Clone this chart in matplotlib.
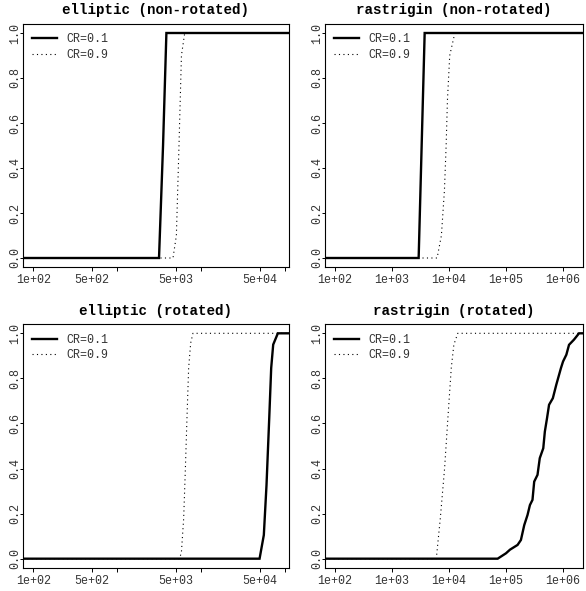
import matplotlib
matplotlib.use("Agg")
import matplotlib.pyplot as plt

plt.rcParams['font.family'] = ['Liberation Mono', 'DejaVu Sans Mono']

# ECDF points: sorted evaluations vs. cumulative fraction
ell_nr_cr01_x = [3160, 3530, 3870]
ell_nr_cr01_p = [0.0, 0.5, 1.0]
ell_nr_cr09_x = [4640, 5090, 5470, 5850, 6400]
ell_nr_cr09_p = [0.0, 0.1, 0.5, 0.9, 1.0]

ras_nr_cr01_x = [2965, 3780]
ras_nr_cr01_p = [0.0, 1.0]
ras_nr_cr09_x = [6250, 7430, 8400, 9000, 9480, 10400, 12800]
ras_nr_cr09_p = [0.0, 0.1, 0.3, 0.5, 0.7, 0.9, 1.0]

ell_r_cr01_x = [50000, 56200, 60500, 65200, 68800, 72700, 82600]
ell_r_cr01_p = [0.0, 0.105, 0.327, 0.624, 0.846, 0.95, 1.0]
ell_r_cr09_x = [5570, 5850, 6220, 6520, 6810, 7130, 7540, 8030]
ell_r_cr09_p = [0.0, 0.03, 0.179, 0.401, 0.624, 0.846, 0.957, 1.0]

ras_r_cr01_x = [72100, 101000, 118600, 161000, 184500, 211000, 241000, 265500,
                294400, 315500, 360600, 395000, 455000, 485000, 530000, 575000,
                670000, 770000, 930000, 1011600, 1156000, 1288000, 1574000, 1928000]
ras_r_cr01_p = [0.0, 0.024, 0.04, 0.061, 0.083, 0.149, 0.194, 0.238,
                0.261, 0.342, 0.372, 0.446, 0.49, 0.564, 0.624, 0.683,
                0.712, 0.772, 0.846, 0.875, 0.905, 0.949, 0.972, 1.0]
ras_r_cr09_x = [6050, 7110, 8450, 9660, 11070, 12300, 14400]
ras_r_cr09_p = [0.0, 0.179, 0.40, 0.624, 0.846, 0.95, 1.0]

titles = ["elliptic (non-rotated)", "rastrigin (non-rotated)",
          "elliptic (rotated)", "rastrigin (rotated)"]
left_ticks = [1e2, 5e2, 1e3, 5e3, 1e4, 5e4, 1e5]
left_labels = ["1e+02", "5e+02", "", "5e+03", "", "5e+04", ""]
right_ticks = [1e2, 1e3, 1e4, 1e5, 1e6]
right_labels = ["1e+02", "1e+03", "1e+04", "1e+05", "1e+06"]
y_ticks = [0.0, 0.2, 0.4, 0.6, 0.8, 1.0]
y_labels = ["0.0", "0.2", "0.4", "0.6", "0.8", "1.0"]

W, H = 586, 591
fig = plt.figure(figsize=(W / 100, H / 100), dpi=100)


def box(l, t, r, b):
    return [l / W, 1 - b / H, (r - l) / W, (b - t) / H]


panels = [
    (box(22.7, 24, 288.5, 267), (10**1.874, 10**5.044), left_ticks, left_labels,
     (ell_nr_cr01_x, ell_nr_cr01_p), (ell_nr_cr09_x, ell_nr_cr09_p)),
    (box(324.7, 24, 583, 267), (10**1.824, 10**6.355), right_ticks, right_labels,
     (ras_nr_cr01_x, ras_nr_cr01_p), (ras_nr_cr09_x, ras_nr_cr09_p)),
    (box(22.7, 324.3, 288.5, 567.7), (10**1.874, 10**5.044), left_ticks, left_labels,
     (ell_r_cr01_x, ell_r_cr01_p), (ell_r_cr09_x, ell_r_cr09_p)),
    (box(324.7, 324.3, 583, 567.7), (10**1.824, 10**6.355), right_ticks, right_labels,
     (ras_r_cr01_x, ras_r_cr01_p), (ras_r_cr09_x, ras_r_cr09_p)),
]

for title, (rect, xlim, xt, xl, s01, s09) in zip(titles, panels):
    ax = fig.add_axes(rect)
    ax.set_xscale('log')
    lo, hi = xlim
    # ECDF extended flat to both ends of the axis
    l9, = ax.plot([lo] + s09[0] + [hi], [0.0] + s09[1] + [1.0], color='black',
                  lw=0.8, linestyle=(0, (1, 3)))
    l1, = ax.plot([lo] + s01[0] + [hi], [0.0] + s01[1] + [1.0], color='black',
                  lw=1.7, solid_joinstyle='miter')
    ax.set_xlim(lo, hi)
    ax.set_ylim(-0.04, 1.04)
    ax.set_xticks(xt)
    ax.set_xticklabels(xl)
    ax.xaxis.set_minor_locator(matplotlib.ticker.NullLocator())
    ax.set_yticks(y_ticks)
    ax.set_yticklabels(y_labels, rotation=90, va='center')
    ax.tick_params(direction='out', length=3, width=0.7, labelsize=8.4,
                   colors='black', labelcolor='#333333')
    ax.tick_params(axis='x', pad=2)
    ax.tick_params(axis='y', length=2.5, pad=-1.5)
    for sp in ax.spines.values():
        sp.set_linewidth(0.8)
    ax.set_title(title, fontsize=10.2, fontweight='bold', pad=7)
    ax.legend([l1, l9], ["CR=0.1", "CR=0.9"], loc='upper left', frameon=False,
              fontsize=8.4, handlelength=2.1, handletextpad=0.85,
              labelspacing=0.3, borderaxespad=0.25, borderpad=0.55,
              labelcolor='#333333')

fig.savefig("out.png", dpi=100)
